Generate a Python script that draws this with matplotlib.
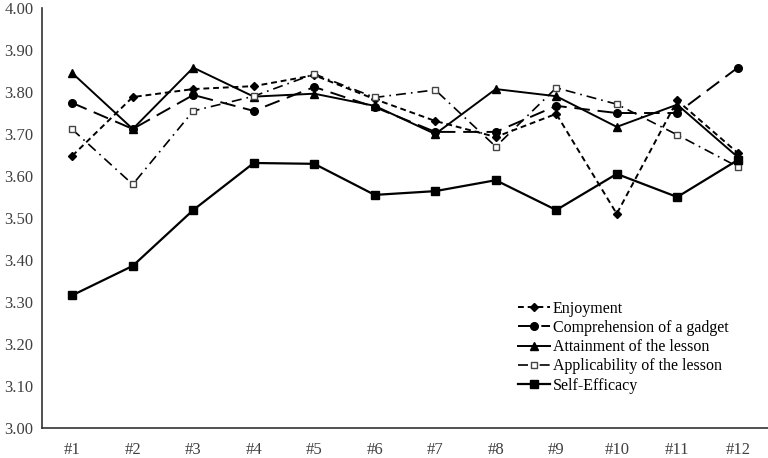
import matplotlib
matplotlib.use('Agg')
import matplotlib.pyplot as plt

plt.rcParams['font.family'] = ['Liberation Serif', 'DejaVu Serif']

sessions = ['#1', '#2', '#3', '#4', '#5', '#6', '#7', '#8', '#9', '#10', '#11', '#12']

enjoyment = [3.648, 3.788, 3.807, 3.814, 3.840, 3.783, 3.731, 3.693, 3.748, 3.510, 3.780, 3.655]
comprehension = [3.774, 3.712, 3.793, 3.755, 3.812, 3.764, 3.705, 3.705, 3.767, 3.750, 3.750, 3.858]
attainment = [3.845, 3.712, 3.858, 3.789, 3.796, 3.767, 3.700, 3.807, 3.790, 3.717, 3.770, 3.645]
applicability = [3.711, 3.580, 3.755, 3.790, 3.843, 3.787, 3.805, 3.670, 3.810, 3.771, 3.698, 3.622]
self_efficacy = [3.316, 3.386, 3.519, 3.631, 3.629, 3.555, 3.564, 3.590, 3.519, 3.605, 3.550, 3.638]

fig = plt.figure(figsize=(7.68, 4.58), dpi=100)
ax = fig.add_axes([0.0547, 0.0655, 0.9453, 0.917])

x = range(len(sessions))
ax.plot(x, enjoyment, color='black', lw=1.4, dashes=(3, 2), marker='D', ms=4,
        label='Enjoyment')
ax.plot(x, comprehension, color='black', lw=1.4, dashes=(8, 4), marker='o', ms=5.5,
        label='Comprehension of a gadget')
ax.plot(x, attainment, color='black', lw=1.4, marker='^', ms=5.5,
        label='Attainment of the lesson')
ax.plot(x, applicability, color='black', lw=1.2, dashes=(6, 3, 1, 3), marker='s', ms=5,
        mfc='white', mec='#444444', label='Applicability of the lesson')
ax.plot(x, self_efficacy, color='black', lw=1.6, marker='s', ms=6,
        label='Self-Efficacy')

ax.set_xlim(-0.5, 11.5)
ax.set_ylim(3.0, 4.0)
ax.set_yticks([3.0 + 0.1 * i for i in range(11)])
ax.set_yticklabels([f'{3.0 + 0.1 * i:.2f}' for i in range(11)])
ax.set_xticks(list(x))
ax.set_xticklabels(sessions)
ax.tick_params(axis='y', length=0, labelsize=12, colors='#404040', pad=6)
ax.tick_params(axis='x', length=0, labelsize=12, colors='#404040', pad=10)

for side in ['top', 'right']:
    ax.spines[side].set_visible(False)
for side in ['left', 'bottom']:
    ax.spines[side].set_color('#333333')
    ax.spines[side].set_linewidth(1.2)

ax.legend(loc='upper left', bbox_to_anchor=(0.645, 0.322), frameon=False,
          fontsize=11.5, handlelength=2.0, handletextpad=0.15, labelspacing=0.2,
          borderpad=0)

fig.savefig('out.png', dpi=100, facecolor='white')
